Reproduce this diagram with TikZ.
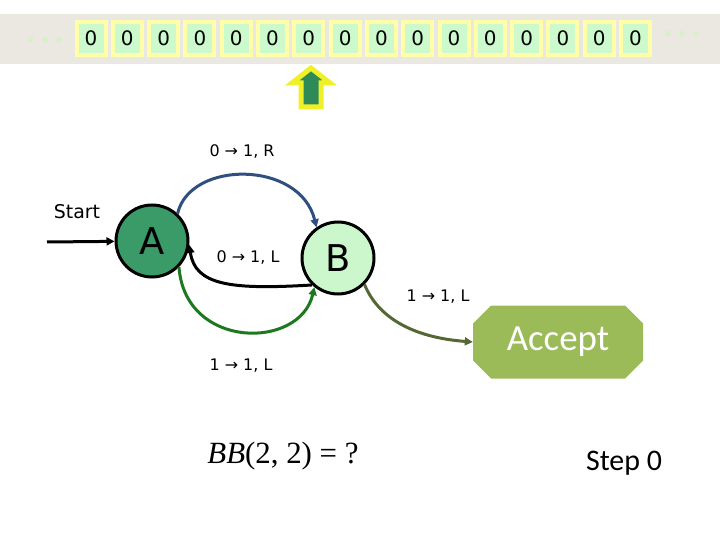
\documentclass[tikz,border=0pt]{standalone}
\usepackage{fontspec}
\setmainfont{DejaVu Sans}
\newfontfamily\calfont{Carlito}
\newfontfamily\timesfont{Liberation Serif}
\usetikzlibrary{shapes.misc, arrows.meta, positioning}
\definecolor{tapegrey}{RGB}{234,232,225}
\definecolor{cellgreen}{RGB}{204,250,204}
\definecolor{cellyellow}{RGB}{255,255,170}
\definecolor{dotgreen}{RGB}{212,242,196}
\definecolor{stateA}{RGB}{58,154,104}
\definecolor{stateB}{RGB}{204,247,204}
\definecolor{edgeblue}{RGB}{47,79,127}
\definecolor{edgegreen}{RGB}{30,120,30}
\definecolor{edgeolive}{RGB}{85,104,52}
\definecolor{acceptgreen}{RGB}{155,187,89}
\definecolor{headgreen}{RGB}{46,139,87}
\definecolor{headyellow}{RGB}{240,240,40}

\begin{document}
\begin{tikzpicture}[x=1bp, y=-1bp,
            cell/.style={rectangle, draw=cellyellow, line width=4bp, fill=cellgreen, minimum width=29bp, minimum height=33bp, inner sep=0pt, font=\fontsize{20}{20}\selectfont},
            state/.style={circle, draw=black, line width=3bp, minimum size=72bp, inner sep=0pt, font=\fontsize{37}{37}\selectfont},
            lbl/.style={font=\fontsize{16}{16}\selectfont},
            dots/.style={text=dotgreen, font=\bfseries\fontsize{26}{26}\selectfont},
            arr/.style={-{Triangle[length=8bp, width=8bp]}, line width=3bp}
        ]
            \useasboundingbox (0,0) rectangle (720,540);
            \fill[tapegrey] (0,14) rectangle (720,64);
            \foreach \i in {0,...,15}
                \node[cell] (c\i) at (91+36.3*\i, 38.5) {0};
            \node[dots] (dotsl) at (45,40) {.\,.\,.};
            \node[dots] (dotsr) at (682,34) {.\,.\,.};
            \draw[draw=headyellow, fill=headgreen, line width=5bp, line join=miter]
                (301,107) -- (301,83) -- (292,83) -- (311,68) -- (330,83) -- (321,83) -- (321,107) -- cycle;
            \node[state, fill=stateA] (A) at (152,241) {A};
            \node[state, fill=stateB] (B) at (338,258) {B};
            \node[chamfered rectangle, chamfered rectangle sep=9bp, fill=acceptgreen, minimum width=170bp, minimum height=73bp, inner sep=0pt, text=white, font=\calfont\fontsize{37}{37}\selectfont] (accept) at (558,342) {Accept};
            \node[font=\fontsize{19}{19}\selectfont] (start) at (77,212) {Start};
            \coordinate (init) at (47,242);
            \node[lbl] (labR) at (242,152) {0 → 1, R};
            \node[lbl] (labL) at (248,258) {0 → 1, L};
            \node[lbl] (labAB) at (241,366) {1 → 1, L};
            \node[lbl] (labacc) at (438,297) {1 → 1, L};
            \node[font=\timesfont\fontsize{31}{31}\selectfont] (bb) at (283,456) {\textit{BB}(2, 2) = ?};
            \node[font=\calfont\fontsize{30}{30}\selectfont] (step) at (624,463) {Step 0};
            \draw[arr] (init) -- (A);
            \draw[arr, edgeblue] (A.47) .. controls (190,160) and (300,160) .. (B.125);
            \draw[arr] (B.226) .. controls (230,290) and (195,285) .. (A.354);
            \draw[arr, edgegreen] (A.316) .. controls (185,350) and (300,350) .. (B.231);
            \draw[arr, edgeolive] (B.315) .. controls (380,322) and (420,338) .. (accept.west);
        \end{tikzpicture}
\end{document}
